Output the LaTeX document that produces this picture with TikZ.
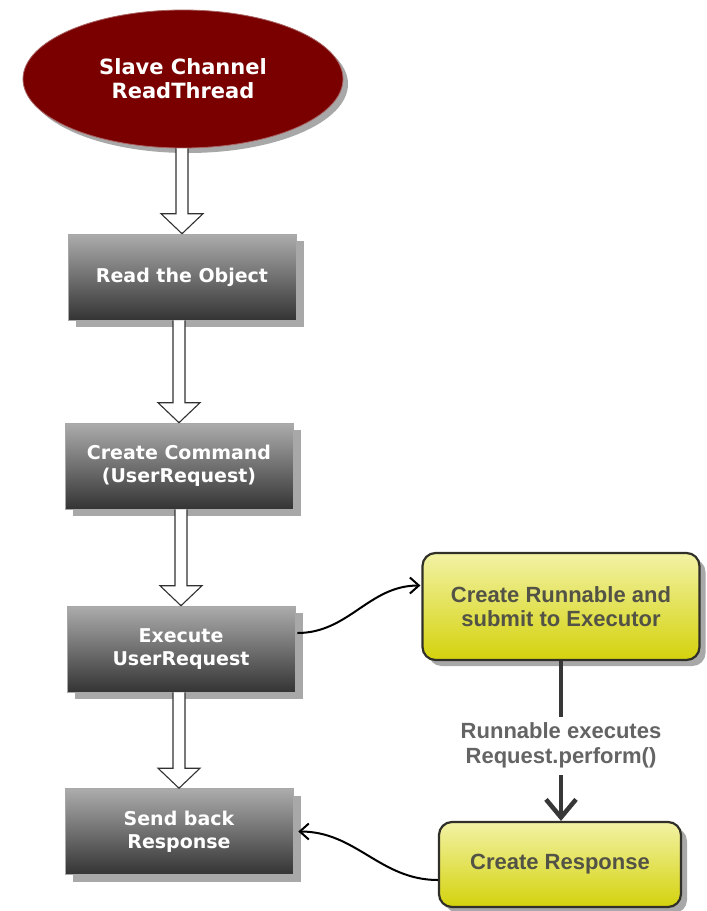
\documentclass[tikz,border=0pt]{standalone}
\usepackage{fontspec}
\newfontfamily\dvs{DejaVu Sans}
\newfontfamily\lib{Liberation Sans}
\usetikzlibrary{calc,shadows,arrows.meta,shapes.geometric}
\definecolor{ellred}{RGB}{122,0,0}
\definecolor{ellrim}{RGB}{170,100,100}
\definecolor{gtop}{RGB}{172,172,172}
\definecolor{gbot}{RGB}{52,52,52}
\definecolor{gshadow}{RGB}{168,168,168}
\definecolor{ytop}{RGB}{242,242,165}
\definecolor{ybot}{RGB}{212,210,12}
\definecolor{yrim}{RGB}{48,48,40}
\definecolor{ytext}{RGB}{82,82,70}
\definecolor{lbltext}{RGB}{100,100,100}
\definecolor{vline}{RGB}{55,55,55}
\definecolor{hollowrim}{RGB}{50,50,50}
\newcommand\hollowarr[2]{%
  \coordinate (ha-s) at (#1.south -| #2.north);
  \draw[hollowline] ($(ha-s)+(-6,0)$) -- ($(#2.north)+(-6,-20)$) -- ($(#2.north)+(-21,-20)$) -- (#2.north)
    -- ($(#2.north)+(21,-20)$) -- ($(#2.north)+(6,-20)$) -- ($(ha-s)+(6,0)$);}
\begin{document}
\begin{tikzpicture}[x=1pt,y=-1pt,
  ellnode/.style={ellipse, fill=ellred, draw=ellrim, line width=0.8pt,
    minimum width=320pt, minimum height=138pt, inner sep=0pt, align=center,
    text=white, font=\dvs\bfseries\fontsize{21}{24}\selectfont,
    drop shadow={shadow xshift=5pt, shadow yshift=-5pt, fill=gshadow, opacity=1}},
  graybox/.style={rectangle, top color=gtop, bottom color=gbot, draw=gshadow, line width=0.6pt,
    minimum width=228pt, minimum height=86pt, inner sep=0pt, align=center,
    text=white, font=\dvs\bfseries\fontsize{19}{23}\selectfont,
    drop shadow={shadow xshift=8pt, shadow yshift=-7pt, fill=gshadow, opacity=1}},
  yellowbox/.style={rectangle, rounded corners=13pt, top color=ytop, bottom color=ybot,
    draw=yrim, line width=2.2pt, inner sep=0pt, align=center,
    text=ytext, font=\lib\bfseries\fontsize{22}{24}\selectfont,
    drop shadow={shadow xshift=6pt, shadow yshift=-6pt, fill=gshadow, opacity=1}},
  hollowline/.style={draw=hollowrim, line width=1.1pt, fill=white},
  curvearrow/.style={draw=black, line width=2pt, -{Straight Barb[length=9pt,width=16pt]}},
  vconn/.style={draw=vline, line width=4.5pt, -{Straight Barb[length=18pt,width=30pt]}},
  lbl/.style={fill=white, inner xsep=2pt, inner ysep=6pt, align=center, text=lbltext,
    font=\lib\bfseries\fontsize{22}{25}\selectfont}
]
\useasboundingbox[fill=white] (0,0) rectangle (707,911);

\node[ellnode] (e) at (183,79) {Slave Channel\\ReadThread};
\node[graybox] (b1) at (182,277) {Read the Object};
\node[graybox] (b2) at (179,466) {Create Command\\(UserRequest)};
\node[graybox] (b3) at (181,649) {Execute\\UserRequest};
\node[graybox] (b4) at (179,831.5) {Send back\\Response};

\node[yellowbox, minimum width=277pt, minimum height=107pt] (y1) at (561,606.5) {Create Runnable and\\submit to Executor};
\node[yellowbox, minimum width=242pt, minimum height=85pt] (y2) at (560,864.5) {Create Response};

\hollowarr{e}{b1}
\hollowarr{b1}{b2}
\hollowarr{b2}{b3}
\hollowarr{b3}{b4}

\draw[curvearrow] ($(b3.east)+(2,-16)$) to[out=0,in=180] ($(y1.west)+(-1,-21)$);
\draw[curvearrow] ($(y2.west)+(0,15.5)$) to[out=180,in=0] ($(b4.east)+(5,0)$);

\draw[vconn] (y1.south) -- node[lbl, pos=0.53] {Runnable executes\\Request.perform()} (y1.south |- y2.north);
\end{tikzpicture}
\end{document}
